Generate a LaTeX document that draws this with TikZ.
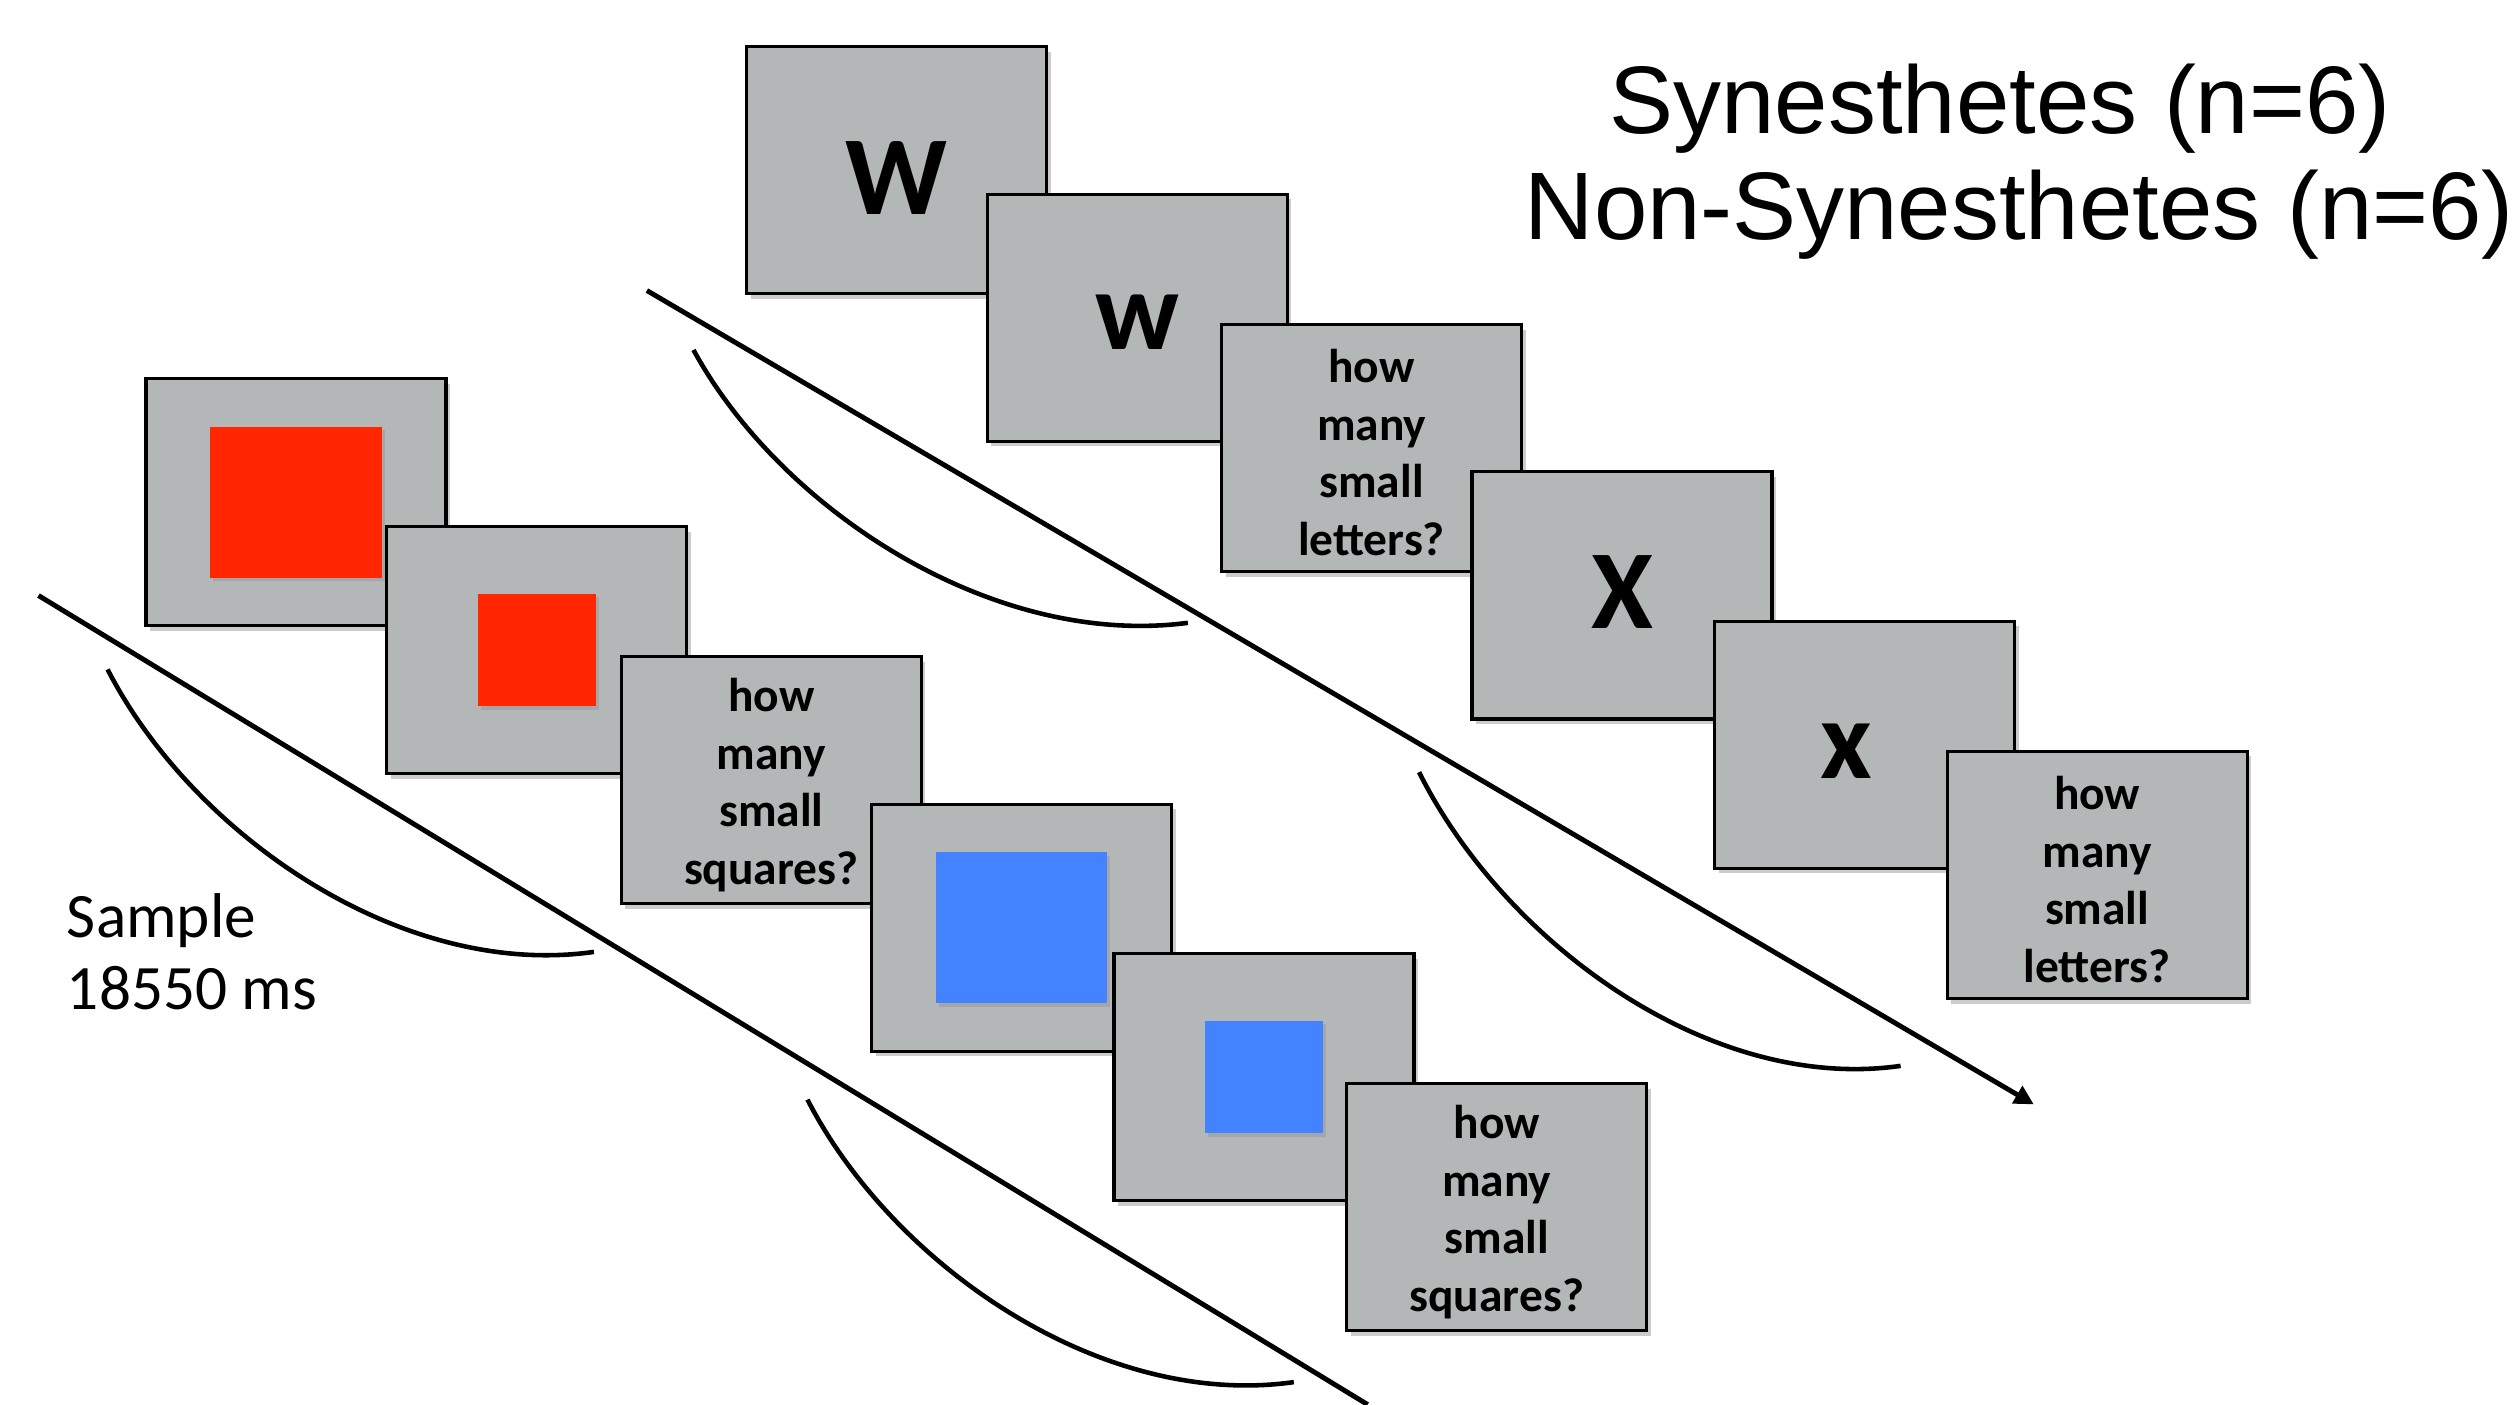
\documentclass[tikz,border=0pt]{standalone}
\usepackage{fontspec}
\setmainfont{Carlito}
\newfontfamily\helv{Liberation Sans}
\usetikzlibrary{shadows,arrows.meta}
\definecolor{cardgray}{RGB}{180,183,184}
\definecolor{stimred}{RGB}{255,38,0}
\definecolor{stimblue}{RGB}{67,131,255}
\begin{document}
\begin{tikzpicture}[x=0.01605cm,y=-0.01605cm,
  card/.style={draw=black, line width=0.9pt, fill=cardgray, minimum width=3.0cm,
    minimum height=2.47cm, inner sep=0pt, anchor=north west,
    drop shadow={shadow xshift=1.2pt,shadow yshift=-1.5pt,opacity=0.4}},
  bigletter/.style={font=\fontsize{32}{38}\selectfont\bfseries, inner sep=0pt},
  question/.style={font=\fontsize{13.5}{16.4}\selectfont\bfseries, align=center, inner sep=0pt},
  sqbig/.style={minimum width=1.717cm, minimum height=1.509cm, inner sep=0pt,
    drop shadow={shadow xshift=0.8pt,shadow yshift=-1pt,opacity=0.3}},
  sqsmall/.style={minimum width=1.18cm, minimum height=1.124cm, inner sep=0pt,
    drop shadow={shadow xshift=0.8pt,shadow yshift=-1pt,opacity=0.3}},
  timeline/.style={line width=1.4pt, line cap=butt},
  arcline/.style={line width=1.3pt},
  titletext/.style={font=\helv\fontsize{27.3}{30}\selectfont}]
\useasboundingbox (0,0) rectangle (1568,875);
% titles
\node[titletext] (title1) at (1246,68) {Synesthetes (n=6)};
\node[titletext] (title2) at (1258,134) {Non-Synesthetes (n=6)};
\node[font=\fontsize{18}{20.5}\selectfont, align=left, anchor=west] (sample) at (34,593)
  {Sample\\18550 ms};
% top (letters) sequence
\node[card] (t1) at (464,28) {};
\node[bigletter] (l1) at ([yshift=-2.3pt]t1.center) {W};
\node[card] (t2) at (614,120) {};
\node[bigletter] (l2) at ([yshift=-1.4pt]t2.center) {w};
\node[card] (t3) at (760,201) {};
\node[question] (q3) at ([yshift=-1.4pt]t3.center) {how\\many\\small\\letters?};
\node[card] (t4) at (916,293) {};
\node[bigletter] (l4) at ([yshift=0.9pt]t4.center) {X};
\node[card] (t5) at (1067,386) {};
\node[bigletter] (l5) at ([xshift=-0.18cm,yshift=-1.8pt]t5.center) {x};
\node[card] (t6) at (1212,467) {};
\node[question] (q6) at ([yshift=-1.4pt]t6.center) {how\\many\\small\\letters?};
% bottom (squares) sequence
\node[card] (b1) at (90,235) {};
\node[sqbig, fill=stimred] (r1) at (b1.center) {};
\node[card] (b2) at (240,327) {};
\node[sqsmall, fill=stimred] (r2) at (b2.center) {};
\node[card] (b3) at (386,408) {};
\node[question] (q3b) at ([yshift=-1.4pt]b3.center) {how\\many\\small\\squares?};
\node[card] (b4) at (542,500) {};
\node[sqbig, fill=stimblue] (r4) at (b4.center) {};
\node[card] (b5) at (693,593) {};
\node[sqsmall, fill=stimblue] (r5) at (b5.center) {};
\node[card] (b6) at (838,674) {};
\node[question] (q6b) at ([yshift=-1.4pt]b6.center) {how\\many\\small\\squares?};
% timelines
\coordinate (ta) at (403,181);
\coordinate (tb) at (1267,688);
\draw[timeline, -{Triangle[length=5.5pt,width=5.5pt]}] (ta) -- (tb);
\coordinate (ba) at (24,371);
\coordinate (bb) at (852,875);
\draw[timeline] (ba) -- (bb);
% interval curves
\coordinate (c1s) at (432,218); \coordinate (c1e) at (740,388);
\draw[arcline] (c1s) .. controls (486,317) and (618,404) .. (c1e);
\coordinate (c2s) at (884,481); \coordinate (c2e) at (1184,664);
\draw[arcline] (c2s) .. controls (937,587) and (1065,681) .. (c2e);
\coordinate (c3s) at (67,417); \coordinate (c3e) at (370,593);
\draw[arcline] (c3s) .. controls (120,520) and (250,610) .. (c3e);
\coordinate (c4s) at (503,685); \coordinate (c4e) at (806,861);
\draw[arcline] (c4s) .. controls (556,788) and (686,878) .. (c4e);
\end{tikzpicture}
\end{document}
